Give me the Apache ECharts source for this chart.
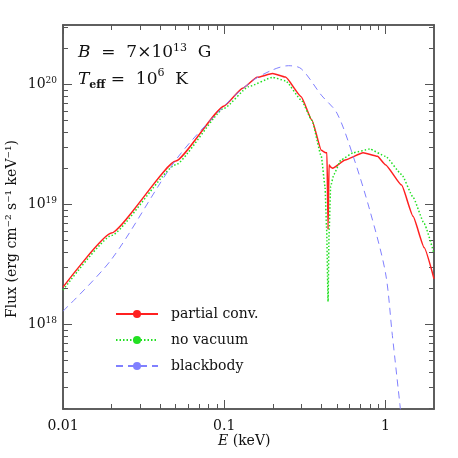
<!DOCTYPE html>
<html><head><meta charset="utf-8">
<script src="https://cdn.jsdelivr.net/npm/echarts@6/dist/echarts.min.js"></script>
<style>html,body{margin:0;padding:0;background:#fff}#c{width:458px;height:458px}</style>
</head><body><div id="c"></div>
<script>
// values are log10(E/keV), log10(flux)
var partialConv = [[-2,18.31],[-1.7,18.76],[-1.3,19.36],[-1,19.82],[-0.886,19.967],[-0.796,20.058],[-0.7,20.09],[-0.62,20.06],[-0.523,19.897],[-0.456,19.70],[-0.398,19.45],[-0.37,19.43],[-0.363,19.43],[-0.356,18.79],[-0.35,19.33],[-0.34,19.31],[-0.328,19.30],[-0.25,19.37],[-0.139,19.43],[-0.05,19.40],[0,19.33],[0.1,19.16],[0.171,18.90],[0.24,18.64],[0.301,18.38]];
var noVacuum = [[-2,18.286],[-1.7,18.74],[-1.3,19.33],[-1,19.80],[-0.85,19.98],[-0.7,20.058],[-0.62,20.03],[-0.523,19.87],[-0.456,19.70],[-0.398,19.40],[-0.375,19.15],[-0.365,18.80],[-0.356,18.19],[-0.35,18.75],[-0.34,19.15],[-0.32,19.25],[-0.276,19.37],[-0.2,19.43],[-0.097,19.46],[0,19.40],[0.1,19.25],[0.171,19.06],[0.24,18.84],[0.301,18.59]];
var blackbody = [[-2,18.11],[-1.7,18.54],[-1.3,19.37],[-1,19.82],[-0.824,20.03],[-0.7,20.12],[-0.602,20.155],[-0.523,20.13],[-0.398,19.91],[-0.301,19.76],[-0.2,19.40],[-0.097,18.95],[0,18.43],[0.041,17.93],[0.093,17.29]];
var xMajor = [-2,-1,0];
var xLabels = {'-2':'0.01','-1':'0.1','0':'1'};
var yMajor = [18,19,20];
var xMin = -2, xMax = Math.log10(2);
var yMin = Math.log10(1.97e17), yMax = Math.log10(3.12e20);

function minors(lo, hi) {
  var out = [];
  for (var d = Math.floor(lo); d <= Math.ceil(hi); d++)
    for (var k = 2; k <= 9; k++) {
      var v = d + Math.log10(k);
      if (v > lo && v < hi) out.push(v);
    }
  return out;
}
var xMinor = minors(xMin, xMax), yMinor = minors(yMin, yMax);
var font = 'DejaVu Serif';
var lineC = '#555';

function ax(pos, len, vals, labels) {
  var isX = pos === 'bottom' || pos === 'top';
  return {
    type: 'value', position: pos, min: isX ? xMin : yMin, max: isX ? xMax : yMax,
    splitLine: {show: false},
    axisLine: {show: true, onZero: false, lineStyle: {color: lineC, width: 1.5}},
    axisTick: {show: true, inside: true, length: len, lineStyle: {color: lineC}, customValues: vals},
    axisLabel: labels ? Object.assign({show: true, customValues: vals, color: '#111', fontFamily: font, fontSize: 14}, labels) : {show: false}
  };
}

var chart = echarts.init(document.getElementById('c'));
chart.setOption({
  animation: false,
  grid: {left: 63, right: 24, top: 25, bottom: 49},
  xAxis: [
    ax('bottom', 9, xMajor, {formatter: function (v) { return xLabels[String(Math.round(v))]; }, margin: 10}),
    ax('bottom', 5, xMinor),
    ax('top', 9, xMajor),
    ax('top', 5, xMinor)
  ],
  yAxis: [
    ax('left', 9, yMajor, {formatter: function (v) { return '10{s|' + Math.round(v) + '}'; }, margin: 6,
      rich: {s: {fontSize: 9, verticalAlign: 'top', padding: [0, 0, 8, 0], fontFamily: font}}}),
    ax('left', 5, yMinor),
    ax('right', 9, yMajor),
    ax('right', 5, yMinor)
  ],
  legend: {
    orient: 'vertical', left: 110, top: 302, itemWidth: 42, itemHeight: 10, itemGap: 12,
    textStyle: {fontFamily: font, fontSize: 14, color: '#111', padding: [0, 0, 0, 8]},
    data: ['partial conv.', 'no vacuum', 'blackbody']
  },
  series: [
    {name: 'partial conv.', type: 'line', data: partialConv, symbol: 'none', smooth: 0.15, smoothMonotone: 'x',
      lineStyle: {color: '#ff2020', width: 1.5}, itemStyle: {color: '#ff2020'}},
    {name: 'no vacuum', type: 'line', data: noVacuum, symbol: 'none', smooth: 0.15, smoothMonotone: 'x',
      lineStyle: {color: '#22e022', width: 1.5, type: [1.5, 2]}, itemStyle: {color: '#22e022'}},
    {name: 'blackbody', type: 'line', data: blackbody, symbol: 'none', smooth: 0.3,
      lineStyle: {color: '#8080ff', width: 1, type: [7, 5]}, itemStyle: {color: '#8080ff'}}
  ],
  graphic: [
    {type: 'text', left: 78, top: 43, style: {text: '{i|B}  =  7×10{s|13}  G', fontFamily: font, fontSize: 17, fill: '#111',
      rich: {i: {fontStyle: 'italic', fontSize: 17, fontFamily: font}, s: {fontSize: 11, verticalAlign: 'top', padding: [0, 0, 8, 0], fontFamily: font}}}},
    {type: 'text', left: 78, top: 68, style: {text: '{i|T}{b|eff} =  10{s|6}  K', fontFamily: font, fontSize: 17, fill: '#111',
      rich: {i: {fontStyle: 'italic', fontSize: 17, fontFamily: font}, b: {fontSize: 11, fontWeight: 'bold', padding: [12, 0, 0, 0], fontFamily: font},
        s: {fontSize: 11, verticalAlign: 'top', padding: [0, 0, 8, 0], fontFamily: font}}}},
    {type: 'text', rotation: Math.PI / 2, x: 5, y: 318,
      style: {text: 'Flux (erg cm⁻² s⁻¹ keV⁻¹)', fontFamily: font, fontSize: 14, fill: '#111'}},
    {type: 'text', left: 218, top: 434, style: {text: '{i|E} (keV)', fontFamily: font, fontSize: 14, fill: '#111',
      rich: {i: {fontStyle: 'italic', fontFamily: font, fontSize: 14}}}}
  ]
});
</script></body></html>
